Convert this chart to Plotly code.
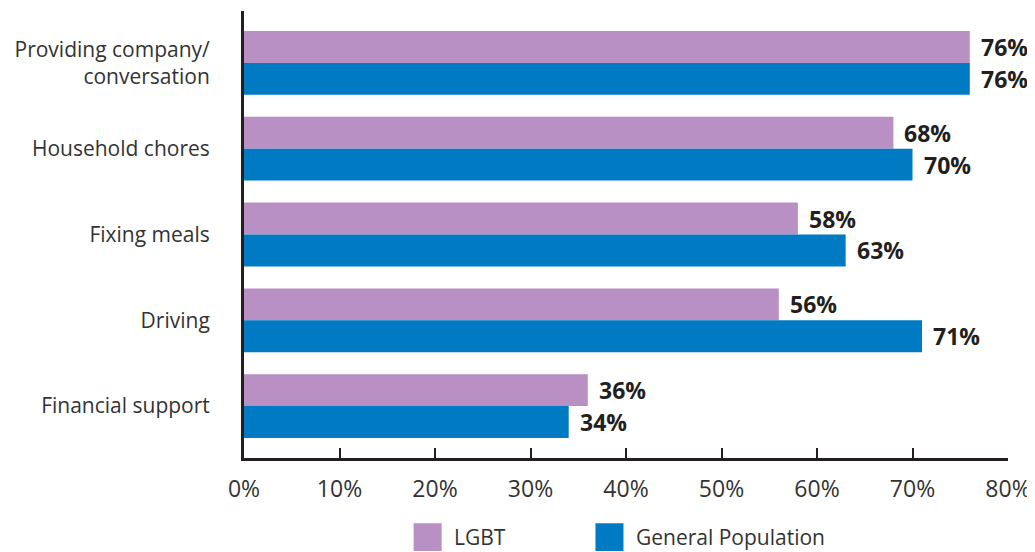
import plotly.graph_objects as go

categories = ["Providing company/<br>conversation", "Household chores", "Fixing meals", "Driving", "Financial support"]
series_names = ["LGBT", "General Population"]
lgbt = [76, 68, 58, 56, 36]
general = [76, 70, 63, 71, 34]
colors = ["#b990c3", "#007ac3"]
x_ticks = [0, 10, 20, 30, 40, 50, 60, 70, 80]

FONT = "Open Sans, Noto Sans, sans-serif"
TEXT = "#231f20"

fig = go.Figure()
ypos = list(range(len(categories)))
bw = 0.372
for i, (name, vals) in enumerate(zip(series_names, [lgbt, general])):
    off = -bw if i == 0 else 0
    fig.add_trace(go.Bar(
        y=ypos, x=vals, orientation="h", name=name,
        marker=dict(color=colors[i], line=dict(width=0)),
        width=bw, offset=off, showlegend=False,
    ))
    for yy, v in zip(ypos, vals):
        fig.add_annotation(
            x=v, y=yy + off + bw / 2, xref="x", yref="y",
            text="<b>%d%%</b>" % v, showarrow=False,
            xanchor="left", yanchor="middle", xshift=9,
            font=dict(family=FONT, size=23, color=TEXT),
        )

# manual legend
leg_x = [0.222, 0.460]
for i, name in enumerate(series_names):
    fig.add_shape(type="rect", xref="paper", yref="paper",
                  x0=leg_x[i], x1=leg_x[i] + 0.0367, y0=-0.146, y1=-0.208,
                  fillcolor=colors[i], line=dict(width=0))
    fig.add_annotation(x=leg_x[i] + 0.050, y=-0.177, xref="paper", yref="paper",
                       text=name, showarrow=False, xanchor="left", yanchor="middle",
                       font=dict(family=FONT, size=21, color="#333333"))

fig.update_layout(
    width=1027, height=544,
    margin=dict(l=236, r=27, t=3, b=94),
    plot_bgcolor="white", paper_bgcolor="white",
    font=dict(family=FONT, size=20, color=TEXT),
    xaxis=dict(
        range=[0, 80], tickvals=x_ticks, ticktext=["%d%%" % t for t in x_ticks],
        showgrid=False, zeroline=False, automargin=False,
        showline=True, linecolor=TEXT, linewidth=3,
        ticks="inside", ticklen=10, tickwidth=1.5, tickcolor=TEXT,
        tickfont=dict(family=FONT, size=23, color="#333333"),
        ticklabelstandoff=8,
    ),
    yaxis=dict(
        range=[4.605, -0.605], tickvals=ypos, ticktext=categories,
        showgrid=False, zeroline=False, automargin=False,
        showline=True, linecolor=TEXT, linewidth=3,
        ticks="", tickfont=dict(family=FONT, size=21, color="#333333"),
        ticklabelstandoff=27,
    ),
    showlegend=False,
)

fig.write_html("out.html")
